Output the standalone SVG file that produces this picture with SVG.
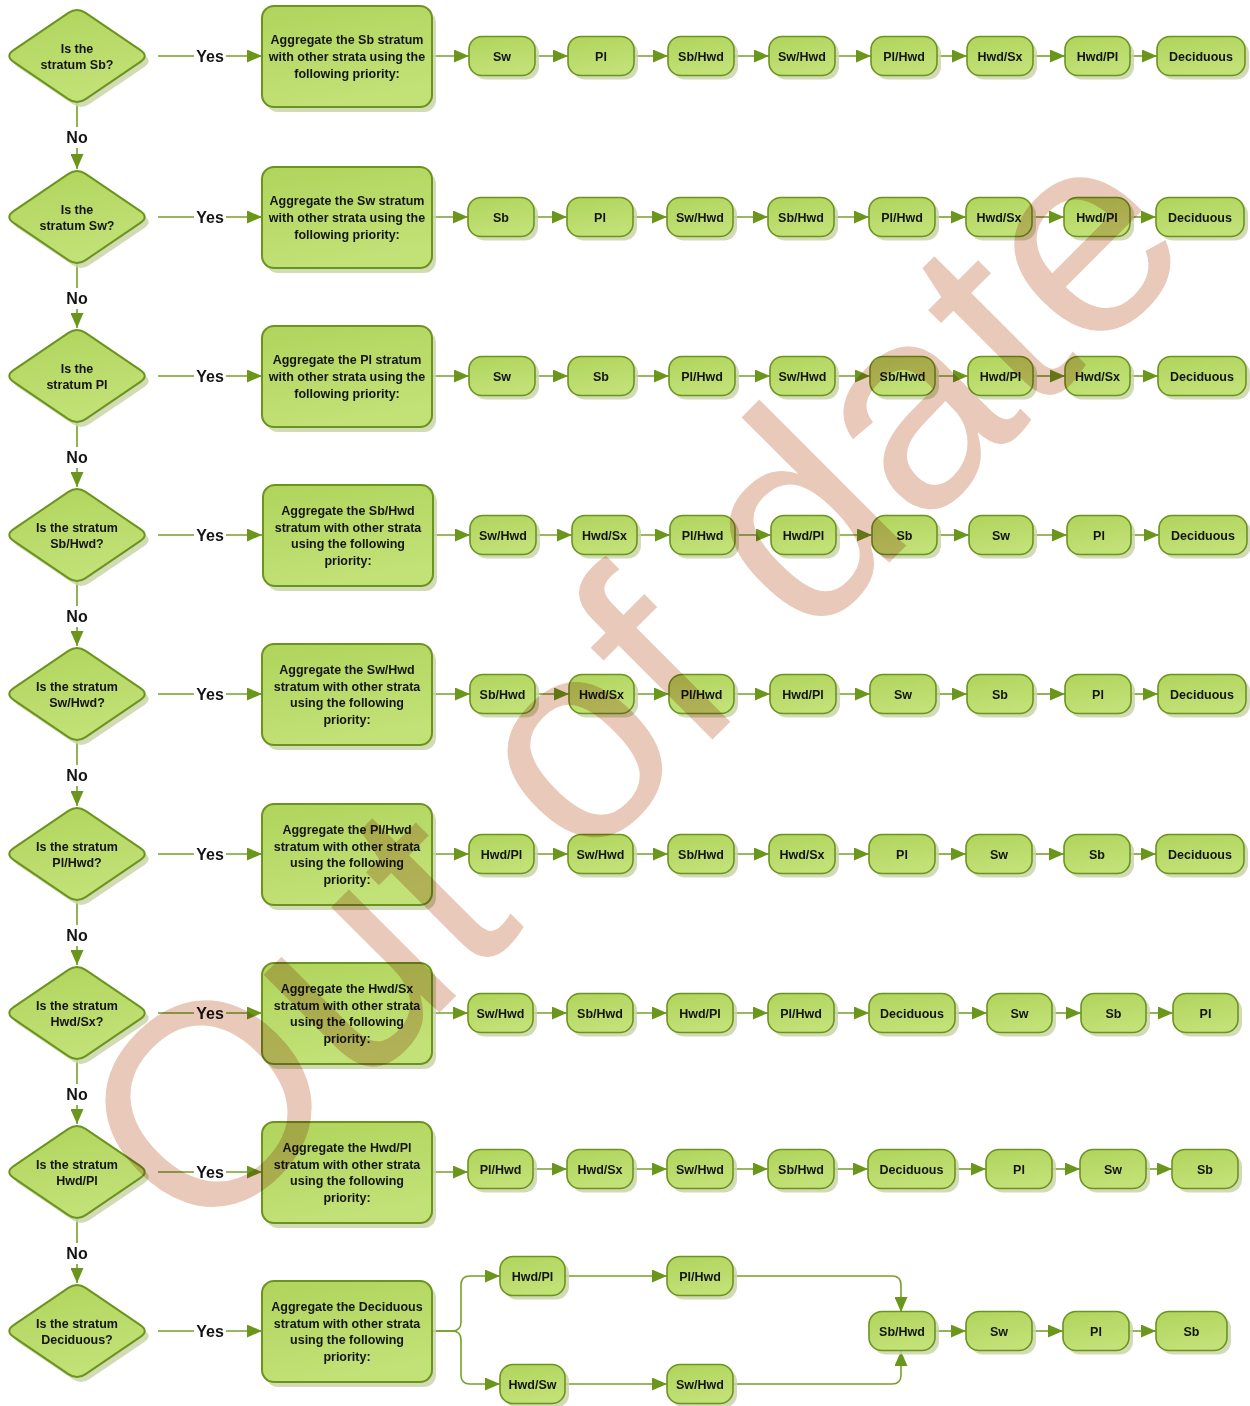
<svg xmlns="http://www.w3.org/2000/svg" xmlns:xlink="http://www.w3.org/1999/xlink" width="1250" height="1406" viewBox="0 0 1250 1406">
<defs>
<linearGradient id="g" x1="0" y1="0" x2="0.3" y2="1">
<stop offset="0" stop-color="#b0d45c"/>
<stop offset="1" stop-color="#c2e177"/>
</linearGradient>
<path id="dia" d="M8.6,-43.1 L63.4,-5.9 Q72,0 63.4,5.9 L8.6,43.1 Q0,49 -8.6,43.1 L-63.4,5.9 Q-72,0 -63.4,-5.9 L-8.6,-43.1 Q0,-49 8.6,-43.1Z"/>
<marker id="a" markerWidth="15" markerHeight="13" refX="15" refY="6.5" orient="auto" markerUnits="userSpaceOnUse">
<path d="M0,0L15,6.5L0,13z" fill="#6b961c"/>
</marker>
</defs>
<style>
.sh{fill:#c9d5a8;opacity:.85}
.nd{fill:url(#g);stroke:#6b941e;stroke-width:1.6}
.dn{fill:url(#g);stroke:#6b941e;stroke-width:2}
.t{font-family:"Liberation Sans",Arial,sans-serif;font-weight:bold;font-size:12.5px;fill:#141414;text-anchor:middle}
.lbl{font-family:"Liberation Sans",Arial,sans-serif;font-weight:bold;font-size:16px;fill:#141414;text-anchor:middle}
.c{fill:none;stroke:#76a02a;stroke-width:1.6}
.ca{fill:none;stroke:#76a02a;stroke-width:1.6;marker-end:url(#a)}
.wm{font-family:"Liberation Sans",Arial,sans-serif;font-size:286px;fill:#e9c9ba;mix-blend-mode:multiply}
</style>
<rect width="1250" height="1406" fill="#ffffff"/>

<g id="connectors">
<path class="c" d="M158,56H194M158,217H194M158,376H194M158,535H194M158,694H194M158,854H194M158,1013H194M158,1172H194M158,1331H194"/>
<path class="ca" d="M226,56H262"/><path class="ca" d="M226,217H262"/><path class="ca" d="M226,376H262"/><path class="ca" d="M226,535H262"/><path class="ca" d="M226,694H262"/><path class="ca" d="M226,854H262"/><path class="ca" d="M226,1013H262"/><path class="ca" d="M226,1172H262"/><path class="ca" d="M226,1331H262"/>
<g class="lbl">
<text x="210" y="62">Yes</text><text x="210" y="223">Yes</text><text x="210" y="382">Yes</text><text x="210" y="541">Yes</text><text x="210" y="700">Yes</text><text x="210" y="860">Yes</text><text x="210" y="1019">Yes</text><text x="210" y="1178">Yes</text><text x="210" y="1337">Yes</text>
</g>
<path class="c" d="M77,103V127M77,264V288M77,423V447M77,582V606M77,741V765M77,901V925M77,1060V1084M77,1219V1243"/>
<path class="ca" d="M77,148V169"/><path class="ca" d="M77,309V328"/><path class="ca" d="M77,468V487"/><path class="ca" d="M77,627V646"/><path class="ca" d="M77,786V806"/><path class="ca" d="M77,946V965"/><path class="ca" d="M77,1105V1124"/><path class="ca" d="M77,1264V1283"/>
<g class="lbl">
<text x="77" y="143">No</text><text x="77" y="304">No</text><text x="77" y="463">No</text><text x="77" y="622">No</text><text x="77" y="781">No</text><text x="77" y="941">No</text><text x="77" y="1100">No</text><text x="77" y="1259">No</text>
</g>
<path class="ca" d="M432,56H469"/><path class="ca" d="M535,56H568"/><path class="ca" d="M634,56H668"/><path class="ca" d="M734,56H769"/><path class="ca" d="M835,56H871"/><path class="ca" d="M937,56H967"/><path class="ca" d="M1033,56H1065"/><path class="ca" d="M1130,56H1157"/>
<path class="ca" d="M432,217H468"/><path class="ca" d="M534,217H567"/><path class="ca" d="M633,217H667"/><path class="ca" d="M733,217H768"/><path class="ca" d="M834,217H869"/><path class="ca" d="M935,217H966"/><path class="ca" d="M1032,217H1064"/><path class="ca" d="M1130,217H1156"/>
<path class="ca" d="M432,376H469"/><path class="ca" d="M535,376H568"/><path class="ca" d="M634,376H669"/><path class="ca" d="M735,376H770"/><path class="ca" d="M835,376H870"/><path class="ca" d="M935,376H968"/><path class="ca" d="M1033,376H1065"/><path class="ca" d="M1130,376H1158"/>
<path class="ca" d="M432,535H470"/><path class="ca" d="M536,535H572"/><path class="ca" d="M637,535H670"/><path class="ca" d="M735,535H771"/><path class="ca" d="M836,535H872"/><path class="ca" d="M937,535H969"/><path class="ca" d="M1033,535H1067"/><path class="ca" d="M1131,535H1159"/>
<path class="ca" d="M432,694H470"/><path class="ca" d="M535,694H569"/><path class="ca" d="M634,694H669"/><path class="ca" d="M734,694H770"/><path class="ca" d="M836,694H870"/><path class="ca" d="M936,694H967"/><path class="ca" d="M1033,694H1065"/><path class="ca" d="M1131,694H1158"/>
<path class="ca" d="M432,854H469"/><path class="ca" d="M534,854H568"/><path class="ca" d="M633,854H668"/><path class="ca" d="M734,854H769"/><path class="ca" d="M835,854H869"/><path class="ca" d="M935,854H966"/><path class="ca" d="M1032,854H1064"/><path class="ca" d="M1130,854H1156"/>
<path class="ca" d="M432,1013H468"/><path class="ca" d="M533,1013H567"/><path class="ca" d="M633,1013H667"/><path class="ca" d="M733,1013H768"/><path class="ca" d="M834,1013H869"/><path class="ca" d="M955,1013H987"/><path class="ca" d="M1052,1013H1081"/><path class="ca" d="M1146,1013H1173"/>
<path class="ca" d="M432,1172H468"/><path class="ca" d="M533,1169H567"/><path class="ca" d="M633,1169H667"/><path class="ca" d="M733,1169H768"/><path class="ca" d="M834,1169H868"/><path class="ca" d="M955,1169H986"/><path class="ca" d="M1052,1169H1080"/><path class="ca" d="M1146,1169H1172"/>
<path class="ca" d="M432,1331H452Q461,1331 461,1322V1285Q461,1276 470,1276H500"/>
<path class="ca" d="M432,1331H452Q461,1331 461,1340V1375Q461,1384 470,1384H500"/>
<path class="ca" d="M565,1276H667"/><path class="ca" d="M565,1384H667"/>
<path class="ca" d="M733,1276H892Q901,1276 901,1285V1312"/>
<path class="ca" d="M733,1384H892Q901,1384 901,1375V1351"/>
<path class="ca" d="M935,1331H966"/><path class="ca" d="M1032,1331H1063"/><path class="ca" d="M1129,1331H1156"/>
</g>

<g id="d1"><use href="#dia" x="81" y="61" class="sh"/><use href="#dia" x="77" y="56" class="dn"/><text class="t" x="77" y="53">Is the</text><text class="t" x="77" y="69">stratum Sb?</text></g>
<g id="d2"><use href="#dia" x="81" y="222" class="sh"/><use href="#dia" x="77" y="217" class="dn"/><text class="t" x="77" y="214">Is the</text><text class="t" x="77" y="230">stratum Sw?</text></g>
<g id="d3"><use href="#dia" x="81" y="381" class="sh"/><use href="#dia" x="77" y="376" class="dn"/><text class="t" x="77" y="373">Is the</text><text class="t" x="77" y="389">stratum Pl</text></g>
<g id="d4"><use href="#dia" x="81" y="540" class="sh"/><use href="#dia" x="77" y="535" class="dn"/><text class="t" x="77" y="532">Is the stratum</text><text class="t" x="77" y="548">Sb/Hwd?</text></g>
<g id="d5"><use href="#dia" x="81" y="699" class="sh"/><use href="#dia" x="77" y="694" class="dn"/><text class="t" x="77" y="691">Is the stratum</text><text class="t" x="77" y="707">Sw/Hwd?</text></g>
<g id="d6"><use href="#dia" x="81" y="859" class="sh"/><use href="#dia" x="77" y="854" class="dn"/><text class="t" x="77" y="851">Is the stratum</text><text class="t" x="77" y="867">Pl/Hwd?</text></g>
<g id="d7"><use href="#dia" x="81" y="1018" class="sh"/><use href="#dia" x="77" y="1013" class="dn"/><text class="t" x="77" y="1010">Is the stratum</text><text class="t" x="77" y="1026">Hwd/Sx?</text></g>
<g id="d8"><use href="#dia" x="81" y="1177" class="sh"/><use href="#dia" x="77" y="1172" class="dn"/><text class="t" x="77" y="1169">Is the stratum</text><text class="t" x="77" y="1185">Hwd/Pl</text></g>
<g id="d9"><use href="#dia" x="81" y="1336" class="sh"/><use href="#dia" x="77" y="1331" class="dn"/><text class="t" x="77" y="1328">Is the stratum</text><text class="t" x="77" y="1344">Deciduous?</text></g>

<g id="b1"><rect class="sh" x="266" y="11" width="170" height="101" rx="12"/><rect class="dn" x="262" y="6" width="170" height="101" rx="12"/><text class="t" x="347" y="44">Aggregate the Sb stratum</text><text class="t" x="347" y="61">with other strata using the</text><text class="t" x="347" y="78">following priority:</text></g>
<g id="b2"><rect class="sh" x="266" y="172" width="170" height="101" rx="12"/><rect class="dn" x="262" y="167" width="170" height="101" rx="12"/><text class="t" x="347" y="205">Aggregate the Sw stratum</text><text class="t" x="347" y="222">with other strata using the</text><text class="t" x="347" y="239">following priority:</text></g>
<g id="b3"><rect class="sh" x="266" y="331" width="170" height="101" rx="12"/><rect class="dn" x="262" y="326" width="170" height="101" rx="12"/><text class="t" x="347" y="364">Aggregate the Pl stratum</text><text class="t" x="347" y="381">with other strata using the</text><text class="t" x="347" y="398">following priority:</text></g>
<g id="b4"><rect class="sh" x="267" y="490" width="170" height="101" rx="12"/><rect class="dn" x="263" y="485" width="170" height="101" rx="12"/><text class="t" x="348" y="515">Aggregate the Sb/Hwd</text><text class="t" x="348" y="532">stratum with other strata</text><text class="t" x="348" y="548">using the following</text><text class="t" x="348" y="565">priority:</text></g>
<g id="b5"><rect class="sh" x="266" y="649" width="170" height="101" rx="12"/><rect class="dn" x="262" y="644" width="170" height="101" rx="12"/><text class="t" x="347" y="674">Aggregate the Sw/Hwd</text><text class="t" x="347" y="691">stratum with other strata</text><text class="t" x="347" y="707">using the following</text><text class="t" x="347" y="724">priority:</text></g>
<g id="b6"><rect class="sh" x="266" y="809" width="170" height="101" rx="12"/><rect class="dn" x="262" y="804" width="170" height="101" rx="12"/><text class="t" x="347" y="834">Aggregate the Pl/Hwd</text><text class="t" x="347" y="851">stratum with other strata</text><text class="t" x="347" y="867">using the following</text><text class="t" x="347" y="884">priority:</text></g>
<g id="b7"><rect class="sh" x="266" y="968" width="170" height="101" rx="12"/><rect class="dn" x="262" y="963" width="170" height="101" rx="12"/><text class="t" x="347" y="993">Aggregate the Hwd/Sx</text><text class="t" x="347" y="1010">stratum with other strata</text><text class="t" x="347" y="1026">using the following</text><text class="t" x="347" y="1043">priority:</text></g>
<g id="b8"><rect class="sh" x="266" y="1127" width="170" height="101" rx="12"/><rect class="dn" x="262" y="1122" width="170" height="101" rx="12"/><text class="t" x="347" y="1152">Aggregate the Hwd/Pl</text><text class="t" x="347" y="1169">stratum with other strata</text><text class="t" x="347" y="1185">using the following</text><text class="t" x="347" y="1202">priority:</text></g>
<g id="b9"><rect class="sh" x="266" y="1286" width="170" height="101" rx="12"/><rect class="dn" x="262" y="1281" width="170" height="101" rx="12"/><text class="t" x="347" y="1311">Aggregate the Deciduous</text><text class="t" x="347" y="1328">stratum with other strata</text><text class="t" x="347" y="1344">using the following</text><text class="t" x="347" y="1361">priority:</text></g>

<g id="r1p1"><rect class="sh" x="473" y="40.5" width="66" height="39" rx="13"/><rect class="nd" x="469" y="36.5" width="66" height="39" rx="13"/><text class="t" x="502" y="60.5">Sw</text></g>
<g id="r1p2"><rect class="sh" x="572" y="40.5" width="66" height="39" rx="13"/><rect class="nd" x="568" y="36.5" width="66" height="39" rx="13"/><text class="t" x="601" y="60.5">Pl</text></g>
<g id="r1p3"><rect class="sh" x="672" y="40.5" width="66" height="39" rx="13"/><rect class="nd" x="668" y="36.5" width="66" height="39" rx="13"/><text class="t" x="701" y="60.5">Sb/Hwd</text></g>
<g id="r1p4"><rect class="sh" x="773" y="40.5" width="66" height="39" rx="13"/><rect class="nd" x="769" y="36.5" width="66" height="39" rx="13"/><text class="t" x="802" y="60.5">Sw/Hwd</text></g>
<g id="r1p5"><rect class="sh" x="875" y="40.5" width="66" height="39" rx="13"/><rect class="nd" x="871" y="36.5" width="66" height="39" rx="13"/><text class="t" x="904" y="60.5">Pl/Hwd</text></g>
<g id="r1p6"><rect class="sh" x="971" y="40.5" width="66" height="39" rx="13"/><rect class="nd" x="967" y="36.5" width="66" height="39" rx="13"/><text class="t" x="1000" y="60.5">Hwd/Sx</text></g>
<g id="r1p7"><rect class="sh" x="1069" y="40.5" width="65" height="39" rx="13"/><rect class="nd" x="1065" y="36.5" width="65" height="39" rx="13"/><text class="t" x="1097.5" y="60.5">Hwd/Pl</text></g>
<g id="r1p8"><rect class="sh" x="1161" y="40.5" width="88" height="39" rx="13"/><rect class="nd" x="1157" y="36.5" width="88" height="39" rx="13"/><text class="t" x="1201" y="60.5">Deciduous</text></g>

<g id="r2p1"><rect class="sh" x="472" y="201.5" width="66" height="39" rx="13"/><rect class="nd" x="468" y="197.5" width="66" height="39" rx="13"/><text class="t" x="501" y="221.5">Sb</text></g>
<g id="r2p2"><rect class="sh" x="571" y="201.5" width="66" height="39" rx="13"/><rect class="nd" x="567" y="197.5" width="66" height="39" rx="13"/><text class="t" x="600" y="221.5">Pl</text></g>
<g id="r2p3"><rect class="sh" x="671" y="201.5" width="66" height="39" rx="13"/><rect class="nd" x="667" y="197.5" width="66" height="39" rx="13"/><text class="t" x="700" y="221.5">Sw/Hwd</text></g>
<g id="r2p4"><rect class="sh" x="772" y="201.5" width="66" height="39" rx="13"/><rect class="nd" x="768" y="197.5" width="66" height="39" rx="13"/><text class="t" x="801" y="221.5">Sb/Hwd</text></g>
<g id="r2p5"><rect class="sh" x="873" y="201.5" width="66" height="39" rx="13"/><rect class="nd" x="869" y="197.5" width="66" height="39" rx="13"/><text class="t" x="902" y="221.5">Pl/Hwd</text></g>
<g id="r2p6"><rect class="sh" x="970" y="201.5" width="66" height="39" rx="13"/><rect class="nd" x="966" y="197.5" width="66" height="39" rx="13"/><text class="t" x="999" y="221.5">Hwd/Sx</text></g>
<g id="r2p7"><rect class="sh" x="1068" y="201.5" width="66" height="39" rx="13"/><rect class="nd" x="1064" y="197.5" width="66" height="39" rx="13"/><text class="t" x="1097" y="221.5">Hwd/Pl</text></g>
<g id="r2p8"><rect class="sh" x="1160" y="201.5" width="88" height="39" rx="13"/><rect class="nd" x="1156" y="197.5" width="88" height="39" rx="13"/><text class="t" x="1200" y="221.5">Deciduous</text></g>

<g id="r3p1"><rect class="sh" x="473" y="360.5" width="66" height="39" rx="13"/><rect class="nd" x="469" y="356.5" width="66" height="39" rx="13"/><text class="t" x="502" y="380.5">Sw</text></g>
<g id="r3p2"><rect class="sh" x="572" y="360.5" width="66" height="39" rx="13"/><rect class="nd" x="568" y="356.5" width="66" height="39" rx="13"/><text class="t" x="601" y="380.5">Sb</text></g>
<g id="r3p3"><rect class="sh" x="673" y="360.5" width="66" height="39" rx="13"/><rect class="nd" x="669" y="356.5" width="66" height="39" rx="13"/><text class="t" x="702" y="380.5">Pl/Hwd</text></g>
<g id="r3p4"><rect class="sh" x="774" y="360.5" width="65" height="39" rx="13"/><rect class="nd" x="770" y="356.5" width="65" height="39" rx="13"/><text class="t" x="802.5" y="380.5">Sw/Hwd</text></g>
<g id="r3p5"><rect class="sh" x="874" y="360.5" width="65" height="39" rx="13"/><rect class="nd" x="870" y="356.5" width="65" height="39" rx="13"/><text class="t" x="902.5" y="380.5">Sb/Hwd</text></g>
<g id="r3p6"><rect class="sh" x="972" y="360.5" width="65" height="39" rx="13"/><rect class="nd" x="968" y="356.5" width="65" height="39" rx="13"/><text class="t" x="1000.5" y="380.5">Hwd/Pl</text></g>
<g id="r3p7"><rect class="sh" x="1069" y="360.5" width="65" height="39" rx="13"/><rect class="nd" x="1065" y="356.5" width="65" height="39" rx="13"/><text class="t" x="1097.5" y="380.5">Hwd/Sx</text></g>
<g id="r3p8"><rect class="sh" x="1162" y="360.5" width="88" height="39" rx="13"/><rect class="nd" x="1158" y="356.5" width="88" height="39" rx="13"/><text class="t" x="1202" y="380.5">Deciduous</text></g>

<g id="r4p1"><rect class="sh" x="474" y="519.5" width="66" height="39" rx="13"/><rect class="nd" x="470" y="515.5" width="66" height="39" rx="13"/><text class="t" x="503" y="539.5">Sw/Hwd</text></g>
<g id="r4p2"><rect class="sh" x="576" y="519.5" width="65" height="39" rx="13"/><rect class="nd" x="572" y="515.5" width="65" height="39" rx="13"/><text class="t" x="604.5" y="539.5">Hwd/Sx</text></g>
<g id="r4p3"><rect class="sh" x="674" y="519.5" width="65" height="39" rx="13"/><rect class="nd" x="670" y="515.5" width="65" height="39" rx="13"/><text class="t" x="702.5" y="539.5">Pl/Hwd</text></g>
<g id="r4p4"><rect class="sh" x="775" y="519.5" width="65" height="39" rx="13"/><rect class="nd" x="771" y="515.5" width="65" height="39" rx="13"/><text class="t" x="803.5" y="539.5">Hwd/Pl</text></g>
<g id="r4p5"><rect class="sh" x="876" y="519.5" width="65" height="39" rx="13"/><rect class="nd" x="872" y="515.5" width="65" height="39" rx="13"/><text class="t" x="904.5" y="539.5">Sb</text></g>
<g id="r4p6"><rect class="sh" x="973" y="519.5" width="64" height="39" rx="13"/><rect class="nd" x="969" y="515.5" width="64" height="39" rx="13"/><text class="t" x="1001" y="539.5">Sw</text></g>
<g id="r4p7"><rect class="sh" x="1071" y="519.5" width="64" height="39" rx="13"/><rect class="nd" x="1067" y="515.5" width="64" height="39" rx="13"/><text class="t" x="1099" y="539.5">Pl</text></g>
<g id="r4p8"><rect class="sh" x="1163" y="519.5" width="88" height="39" rx="13"/><rect class="nd" x="1159" y="515.5" width="88" height="39" rx="13"/><text class="t" x="1203" y="539.5">Deciduous</text></g>

<g id="r5p1"><rect class="sh" x="474" y="678.5" width="65" height="39" rx="13"/><rect class="nd" x="470" y="674.5" width="65" height="39" rx="13"/><text class="t" x="502.5" y="698.5">Sb/Hwd</text></g>
<g id="r5p2"><rect class="sh" x="573" y="678.5" width="65" height="39" rx="13"/><rect class="nd" x="569" y="674.5" width="65" height="39" rx="13"/><text class="t" x="601.5" y="698.5">Hwd/Sx</text></g>
<g id="r5p3"><rect class="sh" x="673" y="678.5" width="65" height="39" rx="13"/><rect class="nd" x="669" y="674.5" width="65" height="39" rx="13"/><text class="t" x="701.5" y="698.5">Pl/Hwd</text></g>
<g id="r5p4"><rect class="sh" x="774" y="678.5" width="66" height="39" rx="13"/><rect class="nd" x="770" y="674.5" width="66" height="39" rx="13"/><text class="t" x="803" y="698.5">Hwd/Pl</text></g>
<g id="r5p5"><rect class="sh" x="874" y="678.5" width="66" height="39" rx="13"/><rect class="nd" x="870" y="674.5" width="66" height="39" rx="13"/><text class="t" x="903" y="698.5">Sw</text></g>
<g id="r5p6"><rect class="sh" x="971" y="678.5" width="66" height="39" rx="13"/><rect class="nd" x="967" y="674.5" width="66" height="39" rx="13"/><text class="t" x="1000" y="698.5">Sb</text></g>
<g id="r5p7"><rect class="sh" x="1069" y="678.5" width="66" height="39" rx="13"/><rect class="nd" x="1065" y="674.5" width="66" height="39" rx="13"/><text class="t" x="1098" y="698.5">Pl</text></g>
<g id="r5p8"><rect class="sh" x="1162" y="678.5" width="88" height="39" rx="13"/><rect class="nd" x="1158" y="674.5" width="88" height="39" rx="13"/><text class="t" x="1202" y="698.5">Deciduous</text></g>

<g id="r6p1"><rect class="sh" x="473" y="838.5" width="65" height="39" rx="13"/><rect class="nd" x="469" y="834.5" width="65" height="39" rx="13"/><text class="t" x="501.5" y="858.5">Hwd/Pl</text></g>
<g id="r6p2"><rect class="sh" x="572" y="838.5" width="65" height="39" rx="13"/><rect class="nd" x="568" y="834.5" width="65" height="39" rx="13"/><text class="t" x="600.5" y="858.5">Sw/Hwd</text></g>
<g id="r6p3"><rect class="sh" x="672" y="838.5" width="66" height="39" rx="13"/><rect class="nd" x="668" y="834.5" width="66" height="39" rx="13"/><text class="t" x="701" y="858.5">Sb/Hwd</text></g>
<g id="r6p4"><rect class="sh" x="773" y="838.5" width="66" height="39" rx="13"/><rect class="nd" x="769" y="834.5" width="66" height="39" rx="13"/><text class="t" x="802" y="858.5">Hwd/Sx</text></g>
<g id="r6p5"><rect class="sh" x="873" y="838.5" width="66" height="39" rx="13"/><rect class="nd" x="869" y="834.5" width="66" height="39" rx="13"/><text class="t" x="902" y="858.5">Pl</text></g>
<g id="r6p6"><rect class="sh" x="970" y="838.5" width="66" height="39" rx="13"/><rect class="nd" x="966" y="834.5" width="66" height="39" rx="13"/><text class="t" x="999" y="858.5">Sw</text></g>
<g id="r6p7"><rect class="sh" x="1068" y="838.5" width="66" height="39" rx="13"/><rect class="nd" x="1064" y="834.5" width="66" height="39" rx="13"/><text class="t" x="1097" y="858.5">Sb</text></g>
<g id="r6p8"><rect class="sh" x="1160" y="838.5" width="88" height="39" rx="13"/><rect class="nd" x="1156" y="834.5" width="88" height="39" rx="13"/><text class="t" x="1200" y="858.5">Deciduous</text></g>

<g id="r7p1"><rect class="sh" x="472" y="997.5" width="65" height="39" rx="13"/><rect class="nd" x="468" y="993.5" width="65" height="39" rx="13"/><text class="t" x="500.5" y="1017.5">Sw/Hwd</text></g>
<g id="r7p2"><rect class="sh" x="571" y="997.5" width="66" height="39" rx="13"/><rect class="nd" x="567" y="993.5" width="66" height="39" rx="13"/><text class="t" x="600" y="1017.5">Sb/Hwd</text></g>
<g id="r7p3"><rect class="sh" x="671" y="997.5" width="66" height="39" rx="13"/><rect class="nd" x="667" y="993.5" width="66" height="39" rx="13"/><text class="t" x="700" y="1017.5">Hwd/Pl</text></g>
<g id="r7p4"><rect class="sh" x="772" y="997.5" width="66" height="39" rx="13"/><rect class="nd" x="768" y="993.5" width="66" height="39" rx="13"/><text class="t" x="801" y="1017.5">Pl/Hwd</text></g>
<g id="r7p5"><rect class="sh" x="873" y="997.5" width="86" height="39" rx="13"/><rect class="nd" x="869" y="993.5" width="86" height="39" rx="13"/><text class="t" x="912" y="1017.5">Deciduous</text></g>
<g id="r7p6"><rect class="sh" x="991" y="997.5" width="65" height="39" rx="13"/><rect class="nd" x="987" y="993.5" width="65" height="39" rx="13"/><text class="t" x="1019.5" y="1017.5">Sw</text></g>
<g id="r7p7"><rect class="sh" x="1085" y="997.5" width="65" height="39" rx="13"/><rect class="nd" x="1081" y="993.5" width="65" height="39" rx="13"/><text class="t" x="1113.5" y="1017.5">Sb</text></g>
<g id="r7p8"><rect class="sh" x="1177" y="997.5" width="65" height="39" rx="13"/><rect class="nd" x="1173" y="993.5" width="65" height="39" rx="13"/><text class="t" x="1205.5" y="1017.5">Pl</text></g>

<g id="r8p1"><rect class="sh" x="472" y="1153.5" width="65" height="39" rx="13"/><rect class="nd" x="468" y="1149.5" width="65" height="39" rx="13"/><text class="t" x="500.5" y="1173.5">Pl/Hwd</text></g>
<g id="r8p2"><rect class="sh" x="571" y="1153.5" width="66" height="39" rx="13"/><rect class="nd" x="567" y="1149.5" width="66" height="39" rx="13"/><text class="t" x="600" y="1173.5">Hwd/Sx</text></g>
<g id="r8p3"><rect class="sh" x="671" y="1153.5" width="66" height="39" rx="13"/><rect class="nd" x="667" y="1149.5" width="66" height="39" rx="13"/><text class="t" x="700" y="1173.5">Sw/Hwd</text></g>
<g id="r8p4"><rect class="sh" x="772" y="1153.5" width="66" height="39" rx="13"/><rect class="nd" x="768" y="1149.5" width="66" height="39" rx="13"/><text class="t" x="801" y="1173.5">Sb/Hwd</text></g>
<g id="r8p5"><rect class="sh" x="872" y="1153.5" width="87" height="39" rx="13"/><rect class="nd" x="868" y="1149.5" width="87" height="39" rx="13"/><text class="t" x="911.5" y="1173.5">Deciduous</text></g>
<g id="r8p6"><rect class="sh" x="990" y="1153.5" width="66" height="39" rx="13"/><rect class="nd" x="986" y="1149.5" width="66" height="39" rx="13"/><text class="t" x="1019" y="1173.5">Pl</text></g>
<g id="r8p7"><rect class="sh" x="1084" y="1153.5" width="66" height="39" rx="13"/><rect class="nd" x="1080" y="1149.5" width="66" height="39" rx="13"/><text class="t" x="1113" y="1173.5">Sw</text></g>
<g id="r8p8"><rect class="sh" x="1176" y="1153.5" width="66" height="39" rx="13"/><rect class="nd" x="1172" y="1149.5" width="66" height="39" rx="13"/><text class="t" x="1205" y="1173.5">Sb</text></g>

<g id="r9a1"><rect class="sh" x="504" y="1260.5" width="65" height="39" rx="13"/><rect class="nd" x="500" y="1256.5" width="65" height="39" rx="13"/><text class="t" x="532.5" y="1280.5">Hwd/Pl</text></g>
<g id="r9a2"><rect class="sh" x="671" y="1260.5" width="66" height="39" rx="13"/><rect class="nd" x="667" y="1256.5" width="66" height="39" rx="13"/><text class="t" x="700" y="1280.5">Pl/Hwd</text></g>
<g id="r9b1"><rect class="sh" x="504" y="1368.5" width="65" height="39" rx="13"/><rect class="nd" x="500" y="1364.5" width="65" height="39" rx="13"/><text class="t" x="532.5" y="1388.5">Hwd/Sw</text></g>
<g id="r9b2"><rect class="sh" x="671" y="1368.5" width="66" height="39" rx="13"/><rect class="nd" x="667" y="1364.5" width="66" height="39" rx="13"/><text class="t" x="700" y="1388.5">Sw/Hwd</text></g>
<g id="r9p1"><rect class="sh" x="873" y="1315.5" width="66" height="39" rx="13"/><rect class="nd" x="869" y="1311.5" width="66" height="39" rx="13"/><text class="t" x="902" y="1335.5">Sb/Hwd</text></g>
<g id="r9p2"><rect class="sh" x="970" y="1315.5" width="66" height="39" rx="13"/><rect class="nd" x="966" y="1311.5" width="66" height="39" rx="13"/><text class="t" x="999" y="1335.5">Sw</text></g>
<g id="r9p3"><rect class="sh" x="1067" y="1315.5" width="66" height="39" rx="13"/><rect class="nd" x="1063" y="1311.5" width="66" height="39" rx="13"/><text class="t" x="1096" y="1335.5">Pl</text></g>
<g id="r9p4"><rect class="sh" x="1160" y="1315.5" width="71" height="39" rx="13"/><rect class="nd" x="1156" y="1311.5" width="71" height="39" rx="13"/><text class="t" x="1191.5" y="1335.5">Sb</text></g>

<text class="wm" x="200" y="1252" transform="rotate(-45 200 1252)">Out of date</text>
</svg>
